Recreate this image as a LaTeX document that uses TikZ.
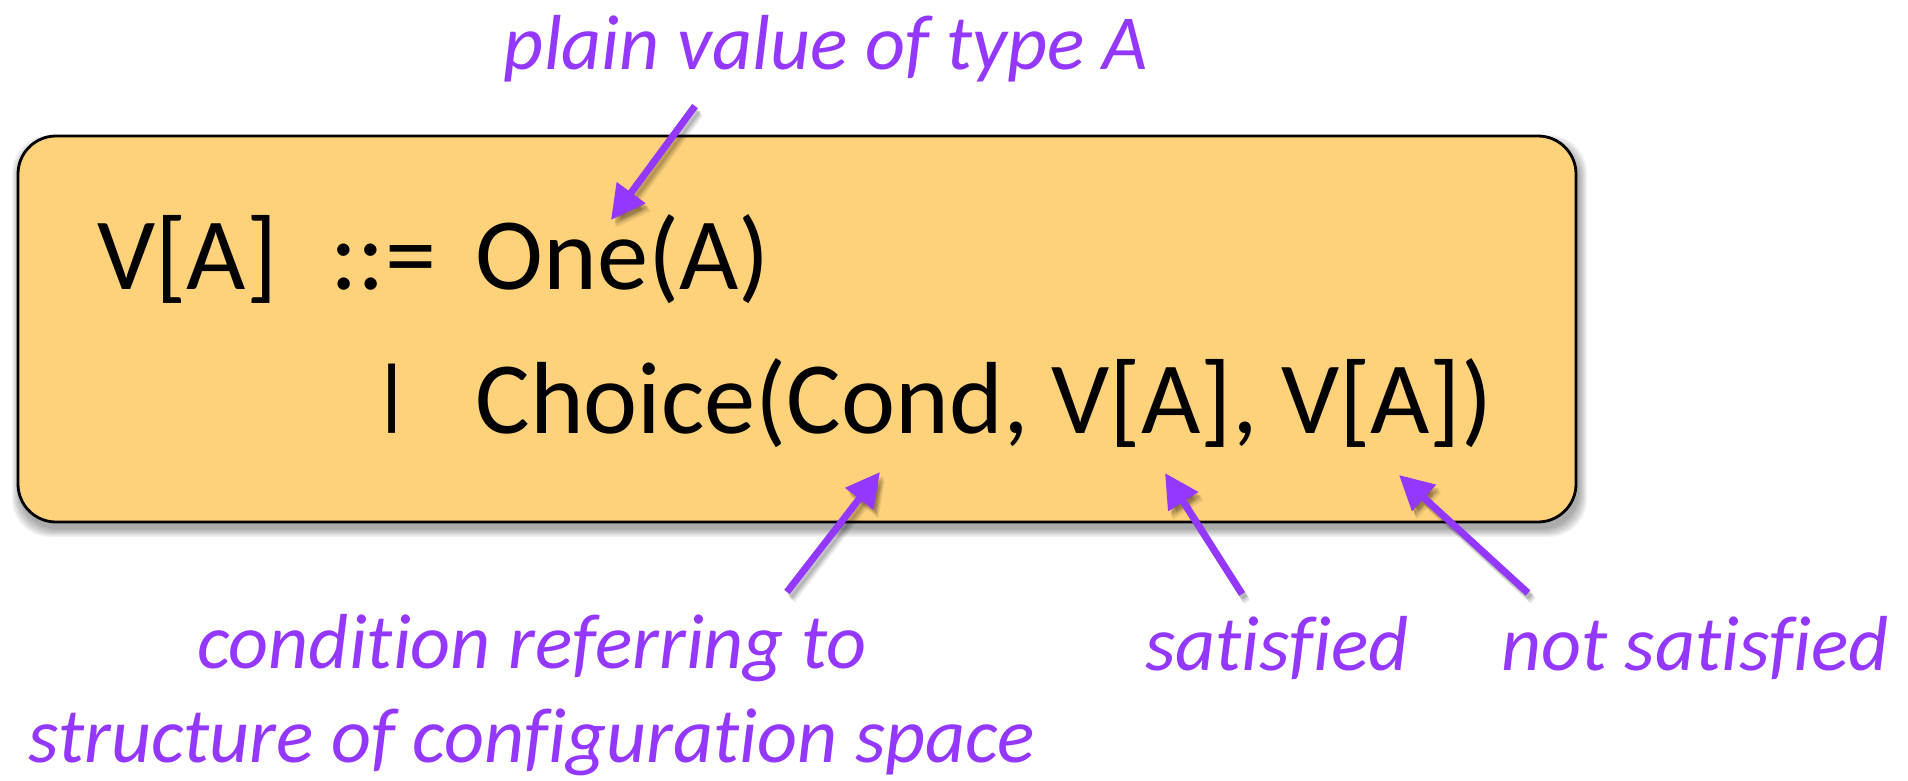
\documentclass[tikz,border=0pt]{standalone}
\usepackage{fontspec}
\setmainfont[Ligatures=NoCommon]{Carlito}
\usetikzlibrary{arrows.meta,calc}
\definecolor{boxfill}{RGB}{254,210,122}
\definecolor{grape}{RGB}{148,55,255}
\tikzset{
  codetext/.style={anchor=base west, inner sep=0pt, font=\fontsize{51.25}{60}\selectfont},
  labeltext/.style={anchor=base, inner sep=0pt, text=grape, font=\itshape\fontsize{39}{48}\selectfont},
  pointer/.style={draw=grape, line width=3.5pt, -{Triangle[length=17pt,width=17pt]}},
  pointershadow/.style={draw=black, fill=black, opacity=#1, line width=3.5pt, -{Triangle[length=17pt,width=17pt]}},
  codebox/.style={draw=black, line width=1.4pt, fill=boxfill, rounded corners=19pt, inner sep=0pt}
}
\begin{document}
\begin{tikzpicture}[x=0.5pt,y=-0.5pt]
\useasboundingbox (0,0) rectangle (1908,781);
% soft shadow of the box
\foreach \i in {0,...,8}{
  \fill[black,opacity=0.045,rounded corners=19pt] (20-\i,143-\i) rectangle (1579+\i,529+\i);
}
\node[codebox, minimum width=779pt, minimum height=193pt] (box) at (797,329) {};
% code
\node[codetext] (lhs) at (97,289) {V[A]};
\node[codetext] (def) at (330,289) {::=};
\node[codetext] (one) at (475,289) {One(A)};
\node[codetext] (bar) at (368,433) {\raisebox{0.118em}{\scalebox{1}[0.762]{|}}};
\node[codetext] (choice) at (475,433) {Choice(Cond, V[A], V[A])};
% labels
\node[labeltext] (plain) at (826,70) {plain value of type A};
\node[labeltext] (cond1) at (532,668) {condition referring to};
\node[labeltext] (cond2) at (532,762) {structure of configuration space};
\node[labeltext] (sat) at (1277,670) {satisfied};
\node[labeltext] (nsat) at (1695,670) {not satisfied};
% arrow ends
\coordinate (t1) at (695,106);  \coordinate (h1) at (611,220);
\coordinate (t2) at (787,592);  \coordinate (h2) at (880,472);
\coordinate (t3) at (1242,594); \coordinate (h3) at (1165,473);
\coordinate (t4) at (1528,593); \coordinate (h4) at (1399,475);
% arrow shadows
\foreach \a/\b in {t1/h1,t2/h2,t3/h3,t4/h4}{
  \foreach \dx/\dy/\o in {5/8/0.08,4/6/0.10,3/4/0.12}{
    \draw[pointershadow=\o] ($(\a)+(\dx,\dy)$) -- ($(\b)+(\dx,\dy)$);
  }
}
% arrows
\draw[pointer] (t1) -- (h1);
\draw[pointer] (t2) -- (h2);
\draw[pointer] (t3) -- (h3);
\draw[pointer] (t4) -- (h4);
\end{tikzpicture}
\end{document}
